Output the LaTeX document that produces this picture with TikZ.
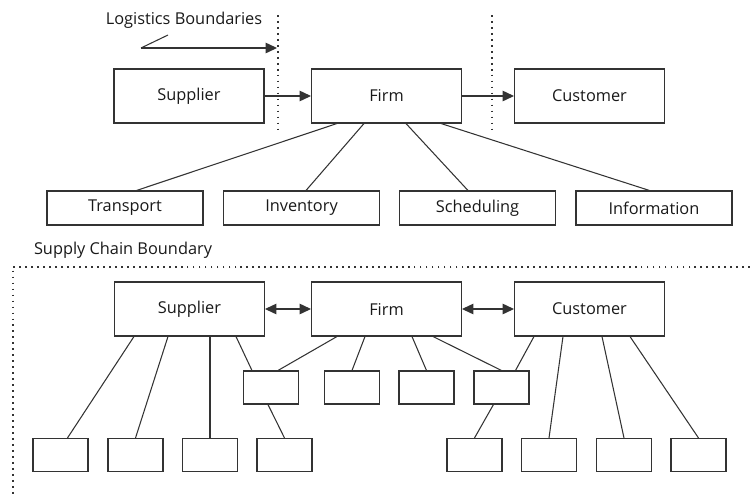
\documentclass[tikz,border=0pt]{standalone}
\usepackage{fontspec}
\setmainfont{Open Sans}
\usepackage{tikz}
\usetikzlibrary{calc,arrows.meta}

\tikzset{
  box/.style={draw=black!80, line width=0.6pt, minimum width=3cm, minimum height=1.08cm, inner sep=0pt, text=black!90, font=\fontsize{9.3}{11}\selectfont},
  task/.style={box, minimum width=3.12cm, minimum height=0.68cm},
  small/.style={box, minimum width=1.1cm, minimum height=0.66cm},
  link/.style={draw=black!80, line width=0.6pt},
  tip/.style={-{Triangle[length=6.5pt,width=6pt]}},
  twotip/.style={{Triangle[length=6.5pt,width=6pt]}-{Triangle[length=6.5pt,width=6pt]}},
  dots/.style={draw=black!80, line width=0.8pt, dash pattern=on 1pt off 2.4pt}
}

\begin{document}
\begin{tikzpicture}[x=0.02cm, y=-0.02cm]
  \useasboundingbox (0,0) rectangle (750,494);

  % logistics view
  \node[box] (sup) at (189,96) {Supplier};
  \node[box] (firm) at (386.5,96) {Firm};
  \node[box] (cust) at (589.5,96) {Customer};
  \node[task] (trans) at (125,208) {Transport};
  \node[task] (inv) at (301.5,208) {Inventory};
  \node[task] (sched) at (477.5,208) {Scheduling};
  \node[task] (info) at (654,208) {Information};

  \draw[link, tip] (sup.east) -- (firm.west);
  \draw[link, tip] (firm.east) -- (cust.west);
  \draw[link] ($(firm.south west)+(26,0)$) -- ($(trans.north west)+(90,0)$);
  \draw[link] ($(firm.south west)+(53,0)$) -- ($(inv.north west)+(83,0)$);
  \draw[link] ($(firm.south west)+(95,0)$) -- ($(sched.north west)+(69,0)$);
  \draw[link] ($(firm.south west)+(130,0)$) -- ($(info.north west)+(74,0)$);

  \draw[dots] (278,15) -- (278,130);
  \draw[dots] (492,15) -- (492,130);
  \node[text=black!90, font=\fontsize{9.3}{11}\selectfont] (logi) at (184,20) {Logistics Boundaries};
  \coordinate (l0) at (141,48);
  \coordinate (l1) at (277,48);
  \draw[link] (168,35) -- (l0);
  \draw[link, tip] (l0) -- (l1);

  % supply chain view
  \node[text=black!90, font=\fontsize{9.3}{11}\selectfont] (scb) at (123,250) {Supply Chain Boundary};
  \draw[dots] (750,267) -- (13,267) -- (13,494);

  \node[box] (sup2) at (189.5,309) {Supplier};
  \node[box] (firm2) at (386.5,309) {Firm};
  \node[box] (cust2) at (589.5,309) {Customer};
  \draw[link, twotip] (sup2.east) -- (firm2.west);
  \draw[link, twotip] (firm2.east) -- (cust2.west);

  \node[small] (m1) at (271,387.5) {};
  \node[small] (m2) at (352,387.5) {};
  \node[small] (m3) at (426.5,387.5) {};
  \node[small] (m4) at (501.5,387.5) {};
  \node[small] (b1) at (60.5,455) {};
  \node[small] (b2) at (135.5,455) {};
  \node[small] (b3) at (210,455) {};
  \node[small] (b4) at (284.5,455) {};
  \node[small] (b5) at (474.5,455) {};
  \node[small] (b6) at (549,455) {};
  \node[small] (b7) at (624,455) {};
  \node[small] (b8) at (698.5,455) {};

  \draw[link] ($(sup2.south west)+(20,0)$) -- ($(b1.north west)+(35,0)$);
  \draw[link] ($(sup2.south west)+(54,0)$) -- (b2.north);
  \draw[link] (b3.north |- sup2.south) -- (b3.north);
  \draw[link] ($(sup2.south west)+(122,0)$) -- ($(m1.north west)+(9,0)$);
  \draw[link] ($(m1.south west)+(25,0)$) -- (b4.north);
  \draw[link] ($(firm2.south west)+(26,0)$) -- ($(m1.north west)+(35,0)$);
  \draw[link] ($(firm2.south west)+(54,0)$) -- (m2.north);
  \draw[link] ($(firm2.south west)+(101,0)$) -- (m3.north);
  \draw[link] ($(firm2.south west)+(122,0)$) -- (m4.north);
  \draw[link] ($(cust2.south west)+(20,0)$) -- ($(m4.north west)+(42,0)$);
  \draw[link] ($(m4.south west)+(20,0)$) -- (b5.north);
  \draw[link] ($(cust2.south west)+(49,0)$) -- (b6.north);
  \draw[link] ($(cust2.south west)+(88,0)$) -- (b7.north);
  \draw[link] ($(cust2.south west)+(116,0)$) -- (b8.north);
\end{tikzpicture}
\end{document}
